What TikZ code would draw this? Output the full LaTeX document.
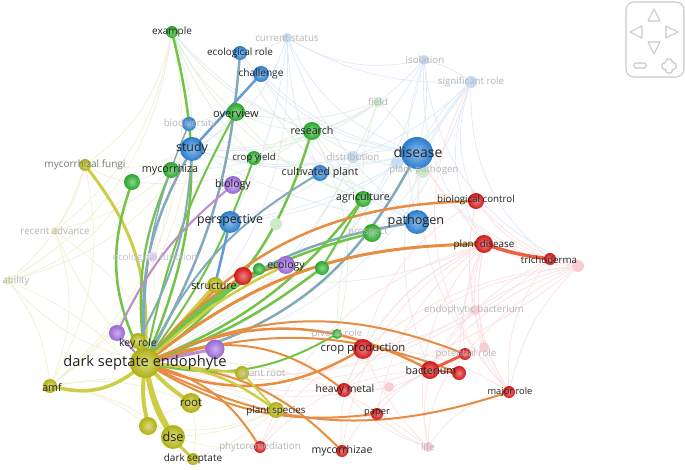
\documentclass[tikz,border=0pt]{standalone}
\usepackage{fontspec}
\setmainfont{Open Sans}
\pgfdeclarelayer{back}
\pgfdeclarelayer{faint}
\pgfdeclarelayer{bg}
\pgfsetlayers{back,faint,bg,main}
\definecolor{cyel}{RGB}{190,190,20}
\definecolor{cgrn}{RGB}{45,180,45}
\definecolor{cblu}{RGB}{45,135,220}
\definecolor{cred}{RGB}{225,25,25}
\definecolor{cpur}{RGB}{165,110,228}
\definecolor{eYel}{RGB}{205,205,70}
\definecolor{eGrn}{RGB}{115,195,70}
\definecolor{eBY}{RGB}{130,170,185}
\definecolor{eBlu}{RGB}{100,155,210}
\definecolor{eOr}{RGB}{232,140,65}
\definecolor{eRed}{RGB}{236,95,65}
\definecolor{ePur}{RGB}{190,140,205}
\definecolor{fBlu}{RGB}{222,233,248}
\definecolor{fGrn}{RGB}{224,241,218}
\definecolor{fRed}{RGB}{252,224,224}
\definecolor{fYel}{RGB}{240,240,210}
\definecolor{fPur}{RGB}{235,225,248}
\definecolor{nBlu}{RGB}{200,220,242}
\definecolor{nGrn}{RGB}{205,235,200}
\definecolor{nRed}{RGB}{250,205,210}
\definecolor{nYel}{RGB}{238,238,190}
\definecolor{nPur}{RGB}{228,215,245}
\definecolor{labdark}{RGB}{35,35,35}
\definecolor{labfaint}{RGB}{180,180,180}
\definecolor{labmid}{RGB}{120,120,120}
\definecolor{navc}{RGB}{200,200,200}
\tikzset{
  vn/.style={circle,inner sep=0pt,shading=radial,inner color=#1!55!white,outer color=#1!92!black},
  fn/.style={circle,inner sep=0pt},
  lab/.style={text=labdark,inner sep=0pt,font=\fontsize{#1}{#1}\selectfont},
  flab/.style={text=labfaint,inner sep=0pt,font=\fontsize{7.3}{8}\selectfont},
  navline/.style={draw=navc,line width=0.8pt,line join=round},
}
\newcommand\VN[4]{\node[vn=#4,minimum size=#3*1.5pt] (#1) at (#2) {};}
\newcommand\FN[4]{\node[fn,minimum size=#3*1.5pt,fill=#4] (#1) at (#2) {};}
\newcommand\ED[5]{\draw[#3,line width=#4*0.75pt,line cap=round] (#1) to[bend left=#5] (#2);}
\begin{document}
\begin{tikzpicture}[x=0.75pt,y=-0.75pt]
\useasboundingbox (0,0) rectangle (685,470);
\begin{pgfonlayer}{back}
\fill[white] (0,0) rectangle (685,470);
\end{pgfonlayer}
% faint nodes
\FN{recadv}{55,231}{4}{nYel}
\FN{ability}{8,281}{4}{nYel}
\FN{ecofun}{152,257}{5}{nPur}
\FN{currstat}{287,38}{5}{nBlu}
\FN{isolation}{424,60}{5}{nBlu}
\FN{sigrole}{471,82}{6}{nBlu}
\FN{distrib}{353,157}{6}{nBlu}
\FN{bfaint}{397,163}{6}{nBlu}
\FN{field}{378,102}{5}{nGrn}
\FN{plantpath}{423,172}{6}{nGrn}
\FN{gfaint}{276,224}{6}{nGrn}
\FN{rfainta}{578,266}{6}{nRed}
\FN{rfaintb}{484,347}{5}{nRed}
\FN{rfaintc}{389,387}{5}{nRed}
\FN{endobac}{475,310}{5}{nRed}
\FN{life}{428,447}{5}{nRed}
% yellow
\VN{dse}{145,363}{15}{cyel}
\VN{keyrole}{138,341}{8}{cyel}
\VN{amf}{50,386}{7}{cyel}
\VN{root}{191,403}{10}{cyel}
\VN{yun}{148,426}{9}{cyel}
\VN{dsesh}{173,437}{12}{cyel}
\VN{darksep}{193,459}{6}{cyel}
\VN{plantroot}{242,373}{7}{cyel}
\VN{plantsp}{276,410}{8}{cyel}
\VN{structure}{215,285}{8}{cyel}
\VN{mycfungi}{85,165}{6}{cyel}
% purple
\VN{biology}{233,185}{9}{cpur}
\VN{ecology}{286,265}{9}{cpur}
\VN{pura}{117,333}{8}{cpur}
\VN{purb}{215,349}{9.5}{cpur}
% blue
\VN{disease}{417,153}{16}{cblu}
\VN{pathogen}{417,222}{12}{cblu}
\VN{study}{192,149}{12}{cblu}
\VN{biodiv}{189,124}{7}{cblu}
\VN{perspective}{230,222}{11}{cblu}
\VN{cultplant}{320,173}{8}{cblu}
\VN{ecorole}{240,53}{7}{cblu}
\VN{challenge}{261,74}{8}{cblu}
% green
\VN{example}{172,32}{6}{cgrn}
\VN{overview}{236,112}{9}{cgrn}
\VN{research}{312,131}{9}{cgrn}
\VN{mycorrhiza}{171,170}{8}{cgrn}
\VN{ga}{132,182}{8}{cgrn}
\VN{cropyield}{254,158}{7}{cgrn}
\VN{agri}{363,199}{8}{cgrn}
\VN{prospect}{372,233}{9}{cgrn}
\VN{gb}{259,269}{6}{cgrn}
\VN{gc}{322,268}{7}{cgrn}
\VN{pivotal}{337,334}{5}{cgrn}
% red
\VN{biocontrol}{476,201}{8}{cred}
\VN{plantdis}{484,244}{9}{cred}
\VN{tricho}{550,259}{6}{cred}
\VN{ra}{243,276}{9}{cred}
\VN{cropprod}{363,349}{10}{cred}
\VN{bacterium}{430,370}{9}{cred}
\VN{rb}{459,373}{7}{cred}
\VN{potrole}{465,354}{6}{cred}
\VN{heavymetal}{344,390}{7}{cred}
\VN{paper}{377,414}{6}{cred}
\VN{majorrole}{509,392}{6}{cred}
\VN{phyto}{260,447}{6}{cred}
\VN{mycorrhizae}{342,451}{6}{cred}

% faint edges
\begin{pgfonlayer}{faint}
\foreach \a/\b/\c/\k in {
 currstat/study/fBlu/20, currstat/disease/fBlu/-20, currstat/ecorole/fBlu/10, currstat/pathogen/fBlu/-15, currstat/dse/fBlu/25,
 currstat/sigrole/fBlu/-15, currstat/perspective/fBlu/10, currstat/cultplant/fBlu/-10,
 isolation/disease/fBlu/10, isolation/pathogen/fBlu/-15, isolation/study/fBlu/25, isolation/dse/fBlu/30, isolation/currstat/fBlu/20,
 isolation/perspective/fBlu/20, isolation/plantdis/fBlu/-20, isolation/sigrole/fBlu/10, isolation/rfainta/fBlu/-30,
 sigrole/disease/fBlu/-10, sigrole/pathogen/fBlu/-20, sigrole/dse/fBlu/30, sigrole/study/fBlu/30, sigrole/plantdis/fBlu/-25,
 sigrole/biocontrol/fBlu/-20, sigrole/bacterium/fBlu/-30, sigrole/tricho/fBlu/-25, sigrole/perspective/fBlu/25, sigrole/majorrole/fRed/-35,
 distrib/disease/fBlu/10, distrib/dse/fBlu/20, distrib/study/fBlu/15, bfaint/disease/fBlu/10, bfaint/dse/fBlu/20,
 challenge/disease/fBlu/-15, ecorole/disease/fBlu/-20, study/disease/fBlu/-15, study/pathogen/fBlu/-10, challenge/pathogen/fBlu/-15,
 example/disease/fBlu/-20, biodiv/disease/fBlu/-20, ecorole/pathogen/fBlu/-20, perspective/disease/fBlu/-10, cultplant/pathogen/fBlu/10,
 example/research/fGrn/-15, example/study/fGrn/10, example/overview/fGrn/-10, example/agri/fGrn/-20, example/cropyield/fGrn/-10,
 field/disease/fGrn/10, field/dse/fGrn/20, field/research/fGrn/10, field/study/fGrn/15, field/agri/fGrn/-10, field/overview/fGrn/15,
 research/overview/fGrn/10, research/agri/fGrn/-10, plantpath/dse/fGrn/20, plantpath/disease/fGrn/5, plantpath/research/fGrn/10,
 gfaint/dse/fGrn/10, prospect/research/fGrn/-10, cropyield/research/fGrn/10, overview/agri/fGrn/-15, mycorrhiza/research/fGrn/-15,
 ga/research/fGrn/-20, ga/overview/fGrn/-15, pivotal/research/fGrn/-20, pivotal/agri/fGrn/10,
 endobac/dse/fRed/20, endobac/bacterium/fRed/-10, endobac/plantdis/fRed/10, endobac/majorrole/fRed/-15, endobac/cropprod/fRed/10,
 rfainta/dse/fRed/25, rfainta/plantdis/fRed/10, rfainta/biocontrol/fRed/15, rfainta/bacterium/fRed/-15, rfainta/majorrole/fRed/-15,
 rfainta/endobac/fRed/-10, rfainta/cropprod/fRed/-15, rfainta/potrole/fRed/-10, rfainta/disease/fRed/25, rfainta/heavymetal/fRed/-20,
 life/dse/fRed/-20, life/bacterium/fRed/10, life/majorrole/fRed/20, life/cropprod/fRed/10, life/paper/fRed/10, life/heavymetal/fRed/15,
 life/plantdis/fRed/25, life/potrole/fRed/20, rfaintb/dse/fRed/20, rfaintc/dse/fRed/15, rfaintb/plantdis/fRed/10,
 tricho/dse/fRed/25, tricho/biocontrol/fRed/15, tricho/bacterium/fRed/-15, tricho/majorrole/fRed/-20, tricho/disease/fRed/20,
 majorrole/plantdis/fRed/20, majorrole/biocontrol/fRed/20, majorrole/disease/fRed/20, paper/bacterium/fRed/10, heavymetal/bacterium/fRed/-15,
 mycorrhizae/bacterium/fRed/15, phyto/bacterium/fRed/20, cropprod/plantdis/fRed/15, cropprod/biocontrol/fRed/20, potrole/plantdis/fRed/15,
 phyto/cropprod/fRed/15, mycorrhizae/cropprod/fRed/15, heavymetal/plantdis/fRed/20, paper/plantdis/fRed/20, mycorrhizae/plantdis/fRed/25,
 phyto/plantdis/fRed/25, majorrole/cropprod/fRed/-15, endobac/biocontrol/fRed/10, rb/plantdis/fRed/10, ra/plantdis/fRed/-15,
 ability/dse/fYel/-15, ability/mycfungi/fYel/-15, ability/amf/fYel/15, ability/study/fYel/-20, ability/example/fYel/-25, ability/dsesh/fYel/20,
 recadv/dse/fYel/-10, recadv/mycfungi/fYel/-10, recadv/study/fYel/-15, recadv/amf/fYel/20, recadv/example/fYel/-20, recadv/root/fYel/15,
 ecofun/dse/fYel/10, ecofun/study/fPur/10, mycfungi/study/fYel/-15, mycfungi/example/fYel/-20, mycfungi/amf/fYel/20,
 amf/study/fYel/-20, amf/dsesh/fYel/15, amf/root/fYel/15, amf/yun/fYel/15, amf/plantsp/fYel/15, amf/example/fYel/-30,
 yun/root/fYel/10, darksep/root/fYel/-10, darksep/plantsp/fYel/-10, dsesh/plantsp/fYel/-10, dsesh/phyto/fYel/-10, yun/plantsp/fYel/-15,
 keyrole/study/fYel/-10, mycfungi/ga/fYel/-10, amf/mycorrhiza/fYel/-25, ability/ga/fYel/-20
}{\draw[draw=\c,line width=0.5pt] (\a) to[bend left=\k] (\b);}
\end{pgfonlayer}

% strong edges
\begin{pgfonlayer}{bg}
\ED{dse}{example}{eGrn}{2.5}{-18}
\ED{dse}{mycfungi}{eYel}{3}{-20}
\ED{dse}{ga}{eGrn}{2.5}{22}
\ED{dse}{mycorrhiza}{eGrn}{2.2}{14}
\ED{dse}{study}{eBY}{2.5}{16}
\ED{dse}{biodiv}{eBY}{1.5}{12}
\ED{dse}{overview}{eGrn}{2}{8}
\ED{dse}{ecorole}{eBY}{2.5}{-12}
\ED{dse}{research}{eGrn}{2.5}{-18}
\ED{dse}{cropyield}{eGrn}{2}{-8}
\ED{dse}{cultplant}{eBY}{2}{16}
\ED{dse}{disease}{eBY}{2.5}{-24}
\ED{dse}{pathogen}{eBY}{2.5}{18}
\ED{dse}{agri}{eGrn}{2.5}{-14}
\ED{dse}{prospect}{eGrn}{2.5}{15}
\ED{dse}{biocontrol}{eOr}{2.5}{24}
\ED{dse}{plantdis}{eOr}{3}{18}
\ED{dse}{cropprod}{eOr}{2.5}{-25}
\ED{dse}{bacterium}{eOr}{2.5}{25}
\ED{dse}{heavymetal}{eOr}{2}{28}
\ED{dse}{majorrole}{eOr}{2}{-22}
\ED{dse}{paper}{eOr}{2}{-18}
\ED{dse}{mycorrhizae}{eOr}{2}{20}
\ED{dse}{phyto}{eOr}{2}{20}
\ED{dse}{pivotal}{eGrn}{2}{-20}
\ED{dse}{plantsp}{eYel}{2.5}{15}
\ED{dse}{root}{eYel}{4}{-5}
\ED{dse}{dsesh}{eYel}{5}{-8}
\ED{dse}{yun}{eYel}{4}{-8}
\ED{dse}{darksep}{eYel}{3}{-18}
\ED{dse}{amf}{eYel}{3.5}{25}
\ED{dse}{keyrole}{eYel}{3}{0}
\ED{dse}{plantroot}{eYel}{2.5}{0}
\ED{dse}{structure}{eYel}{3}{0}
\ED{dse}{ra}{eOr}{2.5}{8}
\ED{dse}{gb}{eGrn}{2.5}{8}
\ED{dse}{gc}{eGrn}{2.5}{-8}
\ED{dse}{ecology}{eYel}{2.5}{8}
\ED{dse}{purb}{ePur}{3}{0}
\ED{dse}{pura}{ePur}{2}{0}
\ED{dse}{potrole}{eOr}{2}{22}
\ED{dse}{rb}{eOr}{2}{18}
\ED{tricho}{plantdis}{eRed}{3.5}{5}
\ED{potrole}{bacterium}{eRed}{3}{0}
\ED{bacterium}{rb}{eRed}{2}{0}
\ED{pura}{biology}{ePur}{2}{12}
\ED{perspective}{structure}{eBlu}{2.5}{0}
\ED{challenge}{study}{eBlu}{2.5}{0}
\ED{ra}{ecology}{eRed}{1.5}{0}
\ED{gb}{ecology}{eGrn}{1.5}{0}
\ED{plantroot}{plantsp}{eYel}{2}{0}
\ED{agri}{gc}{eGrn}{2}{0}
\ED{study}{keyrole}{eBY}{2}{12}
\end{pgfonlayer}

% labels
\node[lab=11] (l-dse) at (145,363) {dark septate endophyte};
\node[lab=7.8] (l-keyrole) at (138,344) {key role};
\node[lab=8] (l-amf) at (52,387) {amf};
\node[lab=8.6] (l-root) at (191,403) {root};
\node[lab=9.5] (l-dsesh) at (173,437) {dse};
\node[lab=7.5] (l-darksep) at (193,459) {dark septate};
\node[flab] (l-plantroot) at (263,374) {plant root};
\node[lab=7.3] (l-plantsp) at (276,411) {plant species};
\node[lab=8] (l-structure) at (214,286) {structure};
\node[lab=7.5,text=labmid] (l-mycfungi) at (85,165) {mycorrhizal fungi};
\node[flab] (l-recadv) at (55,231) {recent advance};
\node[flab] (l-ability) at (16,281) {ability};
\node[flab,text=nPur!70!gray] (l-ecofun) at (155,258) {ecological function};
\node[lab=7.9] (l-biology) at (233,185) {biology};
\node[lab=7.9] (l-ecology) at (286,266) {ecology};
\node[lab=10.5] (l-disease) at (418,152) {disease};
\node[lab=9.5] (l-pathogen) at (416,221) {pathogen};
\node[lab=9.3] (l-study) at (192,148) {study};
\node[flab] (l-biodiv) at (190,124) {biodiversity};
\node[lab=9.2] (l-perspective) at (230,220) {perspective};
\node[lab=8] (l-cultplant) at (320,173) {cultivated plant};
\node[lab=7.4] (l-ecorole) at (240,53) {ecological role};
\node[lab=7.6] (l-challenge) at (261,74) {challenge};
\node[flab] (l-currstat) at (287,38) {current status};
\node[flab] (l-isolation) at (425,60) {isolation};
\node[flab] (l-sigrole) at (471,82) {significant role};
\node[flab] (l-distrib) at (353,157) {distribution};
\node[flab] (l-plantpath) at (424,170) {plant pathogen};
\node[lab=7.5] (l-example) at (172,32) {example};
\node[lab=8.3] (l-overview) at (236,113) {overview};
\node[lab=8] (l-research) at (312,131) {research};
\node[lab=8.1] (l-mycorrhiza) at (170,170) {mycorrhiza};
\node[lab=7.2] (l-cropyield) at (254,158) {crop yield};
\node[lab=8] (l-agri) at (363,198) {agriculture};
\node[flab] (l-prospect) at (368,232) {prospect};
\node[flab] (l-pivotal) at (337,334) {pivotal role};
\node[flab] (l-field) at (378,102) {field};
\node[lab=7.3] (l-biocontrol) at (476,200) {biological control};
\node[lab=7.4] (l-plantdis) at (484,245) {plant disease};
\node[lab=7.3] (l-tricho) at (549,260) {trichoderma};
\node[lab=8.5] (l-cropprod) at (363,349) {crop production};
\node[lab=8] (l-bacterium) at (431,370) {bacterium};
\node[flab] (l-potrole) at (466,354) {potential role};
\node[flab] (l-endobac) at (474,310) {endophytic bacterium};
\node[lab=7.8] (l-heavymetal) at (345,390) {heavy metal};
\node[lab=7] (l-paper) at (377,413) {paper};
\node[lab=7] (l-majorrole) at (510,392) {major role};
\node[flab] (l-phyto) at (260,447) {phytoremediation};
\node[lab=7.9] (l-mycorrhizae) at (342,451) {mycorrhizae};
\node[flab] (l-life) at (428,447) {life};

% navigation control
\draw[navline,rounded corners=6] (626,2) rectangle (684,77);
\draw[navline] (648,21) -- (654,9) -- (660,21) -- cycle;
\draw[navline] (648,42) -- (654,54) -- (660,42) -- cycle;
\draw[navline] (642,26) -- (630,32) -- (642,38) -- cycle;
\draw[navline] (666,26) -- (678,32) -- (666,38) -- cycle;
\draw[navline,rounded corners=1] (634,63) rectangle (646,68);
\draw[navline,rounded corners=1] (666,59) -- (672,59) -- (672,63) -- (676,63) -- (676,69) -- (672,69) -- (672,73) -- (666,73) -- (666,69) -- (662,69) -- (662,63) -- (666,63) -- cycle;
\end{tikzpicture}
\end{document}
